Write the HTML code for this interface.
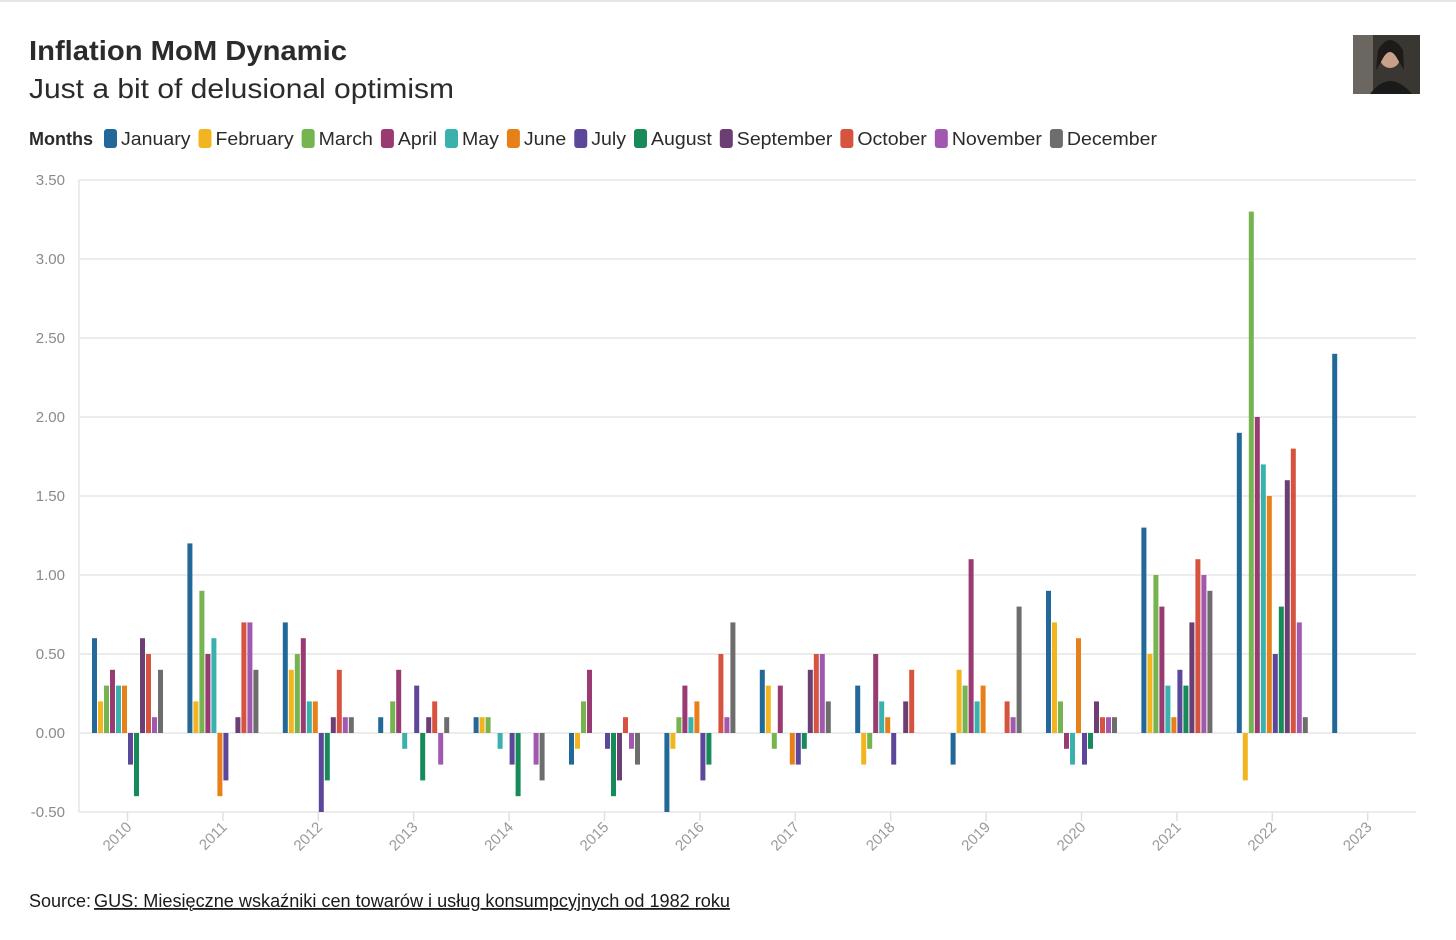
<!DOCTYPE html>
<html><head><meta charset="utf-8"><style>
html,body{margin:0;padding:0;background:#fff;}
svg{display:block;font-family:"Liberation Sans",sans-serif;}
</style></head><body>
<svg id="chart" width="1456" height="940">
<line x1="0" y1="1" x2="1456" y2="1" stroke="#e6e6e6" stroke-width="2"/>
<text x="29" y="60" font-size="28" font-weight="bold" fill="#2b2b2b" textLength="318" lengthAdjust="spacingAndGlyphs">Inflation MoM Dynamic</text>
<text x="29" y="98" font-size="28" fill="#2b2b2b" textLength="425" lengthAdjust="spacingAndGlyphs">Just a bit of delusional optimism</text>
<g>
<rect x="1353" y="35" width="67" height="59" fill="#3a3632"/>
<rect x="1353" y="35" width="20" height="59" fill="#6b6660"/>
<ellipse cx="1390" cy="55" rx="11" ry="13" fill="#c9a08a"/>
<path d="M1378 50 Q1390 30 1403 50 L1404 70 L1398 60 Q1390 44 1382 60 L1376 70 Z" fill="#1d1a18"/>
<path d="M1370 94 Q1390 68 1412 94 Z" fill="#1a1a1a"/>
</g>
<g id="legend">
<text x="29" y="145" font-size="18" font-weight="bold" fill="#2b2b2b" textLength="64" lengthAdjust="spacingAndGlyphs">Months</text>
</g>
<g id="grid"></g>
<g id="bars"></g>
<g id="xaxis"></g>
<text x="29" y="907" font-size="18" fill="#1a1a1a">Source: </text>
<text x="94" y="907" font-size="18" fill="#1a1a1a" text-decoration="underline" textLength="636" lengthAdjust="spacingAndGlyphs">GUS: Miesięczne wskaźniki cen towarów i usług konsumpcyjnych od 1982 roku</text>
</svg>
<script>
const months = ["January","February","March","April","May","June","July","August","September","October","November","December"];
const years = ["2010","2011","2012","2013","2014","2015","2016","2017","2018","2019","2020","2021","2022","2023"];
const yTicks = [-0.5,0,0.5,1,1.5,2,2.5,3,3.5];
const yTickLabels = ["-0.50","0.00","0.50","1.00","1.50","2.00","2.50","3.00","3.50"];
const v2010 = [0.6,0.2,0.3,0.4,0.3,0.3,-0.2,-0.4,0.6,0.5,0.1,0.4];
const v2011 = [1.2,0.2,0.9,0.5,0.6,-0.4,-0.3,0,0.1,0.7,0.7,0.4];
const v2012 = [0.7,0.4,0.5,0.6,0.2,0.2,-0.5,-0.3,0.1,0.4,0.1,0.1];
const v2013 = [0.1,0,0.2,0.4,-0.1,0,0.3,-0.3,0.1,0.2,-0.2,0.1];
const v2014 = [0.1,0.1,0.1,0,-0.1,0,-0.2,-0.4,0,0,-0.2,-0.3];
const v2015 = [-0.2,-0.1,0.2,0.4,0,0,-0.1,-0.4,-0.3,0.1,-0.1,-0.2];
const v2016 = [-0.5,-0.1,0.1,0.3,0.1,0.2,-0.3,-0.2,0,0.5,0.1,0.7];
const v2017 = [0.4,0.3,-0.1,0.3,0,-0.2,-0.2,-0.1,0.4,0.5,0.5,0.2];
const v2018 = [0.3,-0.2,-0.1,0.5,0.2,0.1,-0.2,0,0.2,0.4,0,0];
const v2019 = [-0.2,0.4,0.3,1.1,0.2,0.3,0,0,0,0.2,0.1,0.8];
const v2020 = [0.9,0.7,0.2,-0.1,-0.2,0.6,-0.2,-0.1,0.2,0.1,0.1,0.1];
const v2021 = [1.3,0.5,1.0,0.8,0.3,0.1,0.4,0.3,0.7,1.1,1.0,0.9];
const v2022 = [1.9,-0.3,3.3,2.0,1.7,1.5,0.5,0.8,1.6,1.8,0.7,0.1];
const v2023 = [2.4];
const values = [v2010,v2011,v2012,v2013,v2014,v2015,v2016,v2017,v2018,v2019,v2020,v2021,v2022,v2023];
const colors = ["#22699a","#f2b51f","#76b450","#993a73","#3ab1ad","#e8801a","#5d479b","#168a58","#6c3f74","#d6543f","#a159b0","#6d6d6d"];

const NS="http://www.w3.org/2000/svg";
const svg=document.getElementById('chart');
const plotL=79, plotR=1416, y0px=733, pxPerUnit=158;
const yScale=v=>y0px - v*pxPerUnit;
const yearCenter=i=>127.5 + i*95.4;
const barW=5, pitch=6;
const barX=(yi,mi)=>yearCenter(yi) + (mi-5.5)*pitch - barW/2;
function mk(tag,attrs,parent){const e=document.createElementNS(NS,tag);for(const k in attrs)e.setAttribute(k,attrs[k]);parent.appendChild(e);return e;}

// legend
const lg=document.getElementById('legend');
let lx=104;
months.forEach((m,i)=>{
  const r=mk('rect',{x:lx,y:129,width:13,height:19,rx:3,fill:colors[i]},lg);
  
  
  const t=mk('text',{x:lx+17,y:145,'font-size':18,fill:'#2b2b2b'},lg);
  t.textContent=m;
  
  
  const w=t.getComputedTextLength()*1.085;
  t.setAttribute('textLength',w);t.setAttribute('lengthAdjust','spacingAndGlyphs');
  lx+=17+w+8;
});

// grid + y labels
const g=document.getElementById('grid');
yTicks.forEach((v,i)=>{
  const l=mk('line',{x1:plotL,x2:plotR,y1:yScale(v),y2:yScale(v),stroke:'#e6e6e6','stroke-width':1.5},g);
  
  
  const t=mk('text',{x:65,y:yScale(v)+5,'font-size':15,fill:'#8a8a8a','text-anchor':'end'},g);
  t.textContent=yTickLabels[i];
  
  
});
const ax=mk('line',{x1:plotL,x2:plotL,y1:yScale(3.5),y2:yScale(-0.5),stroke:'#e6e6e6','stroke-width':1.5},g);



// bars
const b=document.getElementById('bars');
values.forEach((arr,yi)=>{
  arr.forEach((v,mi)=>{
    if(v===0)return;
    const y=Math.min(yScale(v),yScale(0)), h=Math.abs(yScale(v)-yScale(0));
    const r=mk('rect',{x:barX(yi,mi),y:y,width:barW,height:h,fill:colors[mi]},b);
    
    
  });
});

// x axis
const xa=document.getElementById('xaxis');
years.forEach((yr,i)=>{
  const cx=yearCenter(i);
  const tk=mk('line',{x1:cx,x2:cx,y1:812,y2:821,stroke:'#e0e0e0','stroke-width':1.5},xa);
  
  
  const t=mk('text',{x:cx+5,y:828,'font-size':15,fill:'#9a9a9a','text-anchor':'end',transform:`rotate(-45 ${cx+5} 828)`},xa);
  t.textContent=yr;
  
  
});
</script>
</body></html>
